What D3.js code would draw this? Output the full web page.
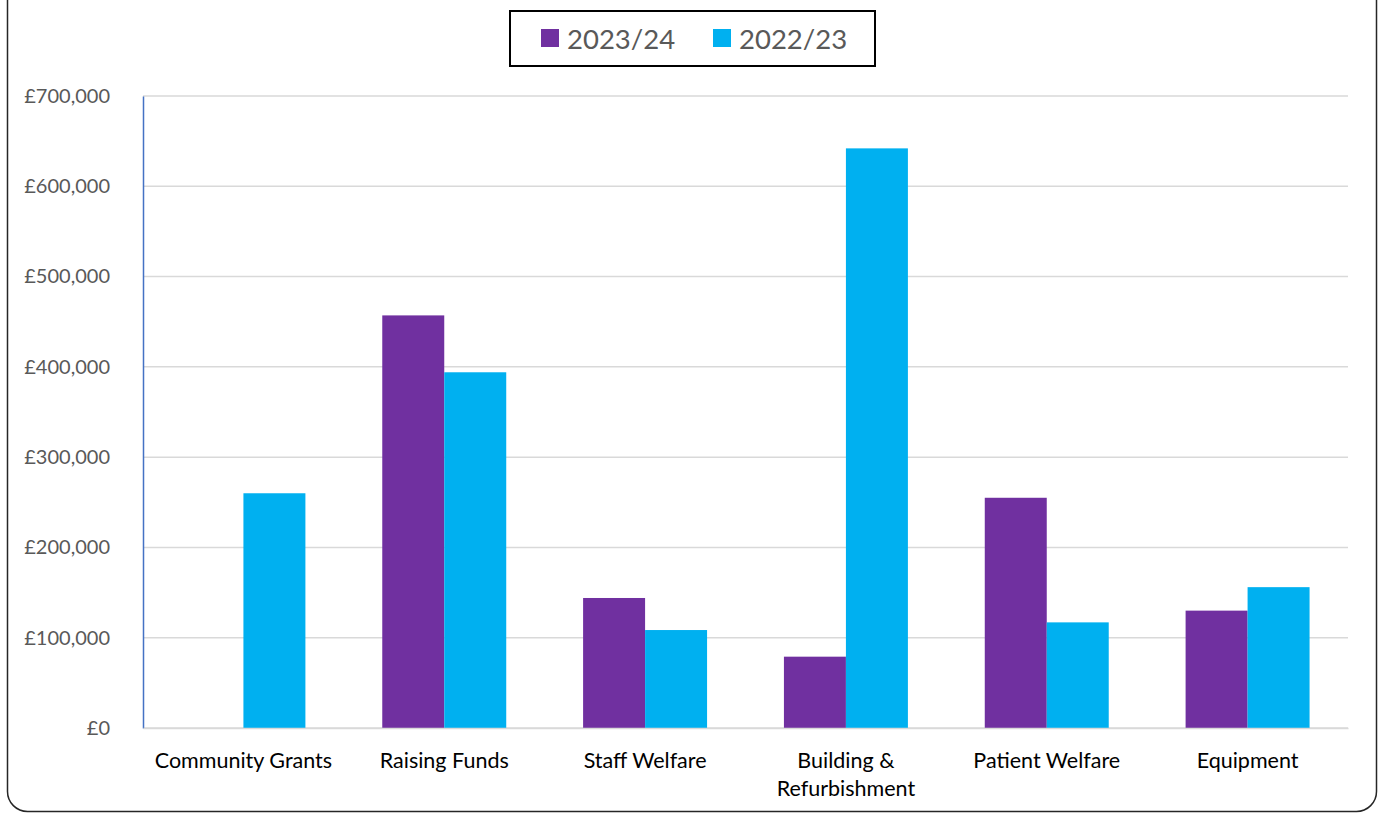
<!DOCTYPE html>
<html>
<head>
<meta charset="utf-8">
<script src="https://cdn.jsdelivr.net/npm/d3@7"></script>
<style>
  html, body { margin: 0; padding: 0; background: #ffffff; }
  svg { display: block; }
</style>
</head>
<body>
<svg id="chart" width="1381" height="813"></svg>
<script>
const categories = ["Community Grants", "Raising Funds", "Staff Welfare", "Building & Refurbishment", "Patient Welfare", "Equipment"];
const seriesNames = ["2023/24", "2022/23"];
const values2023_24 = [0, 457000, 144000, 79000, 255000, 130000];
const values2022_23 = [260000, 394000, 108500, 642000, 117000, 156000];
const yTickValues = [0, 100000, 200000, 300000, 400000, 500000, 600000, 700000];
const seriesColors = ["#7030A0", "#00B0F0"];

(function () {
const plotLeft = 143, plotRight = 1348, plotTop = 96, plotBottom = 728;
const font = "Lato, 'Liberation Sans', sans-serif";

const svg = d3.select("#chart");

// outer frame (top edge off-page, rounded bottom corners)
const r = 20, fx0 = 7.5, fx1 = 1376.5, fy1 = 811.5;
svg.append("path")
  .attr("d", `M${fx0},-10 L${fx0},${fy1 - r} A${r},${r} 0 0 0 ${fx0 + r},${fy1} L${fx1 - r},${fy1} A${r},${r} 0 0 0 ${fx1},${fy1 - r} L${fx1},-10`)
  .attr("fill", "none").attr("stroke", "#262626").attr("stroke-width", 1.5);

const x = d3.scaleBand().domain(categories).range([plotLeft, plotRight]).paddingInner(0).paddingOuter(0);
const xs = d3.scaleBand().domain(seriesNames).range([0, x.bandwidth()]).paddingInner(0).paddingOuter(0.62);
const y = d3.scaleLinear().domain([0, 700000]).range([plotBottom, plotTop]);

// gridlines
svg.append("g").selectAll("line").data(yTickValues).join("line")
  .attr("x1", plotLeft).attr("x2", plotRight)
  .attr("y1", d => y(d)).attr("y2", d => y(d))
  .attr("stroke", "#d9d9d9").attr("stroke-width", 1.5);

// y axis
const fmt = d => "£" + d3.format(",")(d);
const yAxis = svg.append("g").attr("transform", `translate(${plotLeft},0)`)
  .call(d3.axisLeft(y).tickValues(yTickValues).tickFormat(fmt).tickSize(0).tickPadding(33));
yAxis.select(".domain").attr("stroke", "#4472C4").attr("stroke-width", 1.5);
yAxis.selectAll("text").attr("font-family", font).attr("font-size", 20).attr("fill", "#595959");

// bars
const data = categories.map((c, i) => ({ cat: c, vals: [values2023_24[i], values2022_23[i]] }));
const groups = svg.append("g").selectAll("g").data(data).join("g")
  .attr("transform", d => `translate(${x(d.cat)},0)`);
groups.selectAll("rect").data(d => d.vals.map((v, j) => ({ s: seriesNames[j], v, j })))
  .join("rect")
  .attr("x", d => xs(d.s))
  .attr("width", xs.bandwidth())
  .attr("y", d => y(d.v))
  .attr("height", d => y(0) - y(d.v))
  .attr("fill", d => seriesColors[d.j]);

// x axis
const xAxis = svg.append("g").attr("transform", `translate(0,${plotBottom})`)
  .call(d3.axisBottom(x).tickSize(0).tickPadding(25));
xAxis.select(".domain").attr("stroke", "#d9d9d9").attr("stroke-width", 1.5);
xAxis.selectAll("text")
  .attr("font-family", font).attr("font-size", 21.5).attr("fill", "#000000")
  .each(function (d) {
    const t = d3.select(this);
    if (d.includes("&")) {
      const k0 = d.indexOf("&") + 1;
      const lines = [d.slice(0, k0), d.slice(k0 + 1)];
      t.text(null);
      lines.forEach((ln, k) => t.append("tspan").attr("x", 0).attr("dy", k === 0 ? "0.71em" : "1.3em").text(ln));
      t.attr("dy", null);
    }
  });

// legend
const lg = svg.append("g");
lg.append("rect").attr("x", 510).attr("y", 11).attr("width", 365).attr("height", 55)
  .attr("fill", "#ffffff").attr("stroke", "#000000").attr("stroke-width", 2);
const legendX = [541, 713];
seriesNames.forEach((s, i) => {
  lg.append("rect").attr("x", legendX[i]).attr("y", 29).attr("width", 18).attr("height", 18).attr("fill", seriesColors[i]);
  lg.append("text").attr("x", legendX[i] + 26).attr("y", 39).attr("dy", "0.35em")
    .attr("font-family", font).attr("font-size", 27.5).attr("fill", "#595959").text(s);
});
})();
</script>
</body>
</html>
